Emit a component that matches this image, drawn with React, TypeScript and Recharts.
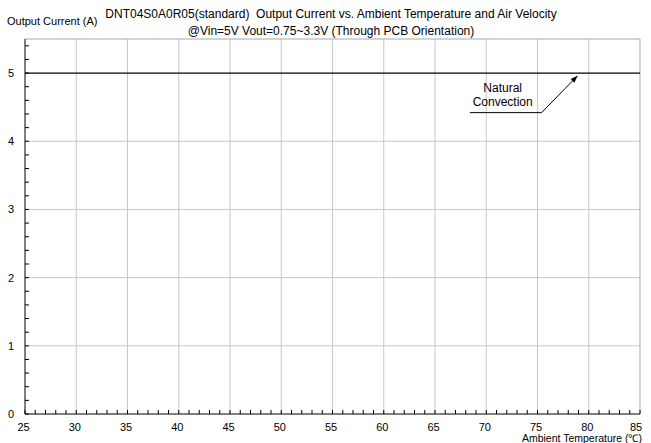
import React from 'react';
import { LineChart, Line, XAxis, YAxis, ReferenceLine, ReferenceDot } from 'recharts';

const temps = [25, 85];
const naturalConvection = [5, 5];
const xLabelValues = [25, 30, 35, 40, 45, 50, 55, 60, 65, 70, 75, 80, 85];
const yLabelValues = [0, 1, 2, 3, 4, 5];
const xGridValues = [30, 35, 40, 45, 50, 55, 60, 65, 70, 75, 80];
const yGridValues = [1, 2, 3, 4];
const xMinorTicks = Array.from({ length: 61 }, (_, i) => 25 + i);
const yMinorTicks = Array.from({ length: 28 }, (_, i) => Math.round(i * 2) / 10);
const leaderX = [68.4, 75.4, 78.9];
const leaderY = [4.42, 4.42, 4.96];
const noteLines = ['Natural', 'Convection'];
const noteX = 71.6;
const noteY = [4.78, 4.57];

const titleLine1 = 'DNT04S0A0R05(standard)  Output Current vs. Ambient Temperature and Air Velocity';
const titleLine2 = '@Vin=5V Vout=0.75~3.3V (Through PCB Orientation)';
const yTitle = 'Output Current (A)';
const xTitle = 'Ambient Temperature (\u2103)';

const FONT = '"Liberation Sans", Arial, sans-serif';

const data = temps.map((t, i) => ({ t, nc: naturalConvection[i] }));
const leaderData = leaderX.map((t, i) => ({ t, y: leaderY[i] }));

const XTick = (props: any) => {
  const { x, y, payload } = props;
  const v = payload.value;
  const major = xLabelValues.includes(v);
  const isLast = v === xLabelValues[xLabelValues.length - 1];
  return (
    <g>
      <line x1={x} x2={x} y1={y} y2={y - 4} stroke="#000" strokeWidth={1} />
      {major && (
        <text
          x={x - (isLast ? 4 : 1.5)}
          y={y + 17}
          textAnchor="middle"
          fontSize={11}
          fontFamily={FONT}
          fill="#000"
        >
          {v}
        </text>
      )}
    </g>
  );
};

const YTick = (props: any) => {
  const { x, y, payload } = props;
  const v = payload.value;
  const major = yLabelValues.includes(v);
  return (
    <g>
      <line x1={x} x2={x + 4} y1={y} y2={y} stroke="#000" strokeWidth={1} />
      {major && (
        <text x={x - 11} y={y + 4} textAnchor="end" fontSize={11} fontFamily={FONT} fill="#000">
          {v}
        </text>
      )}
    </g>
  );
};

const ArrowDot = (p: any) => {
  if (p.index !== leaderX.length - 1) return <g key={`d${p.index}`} />;
  const dx = 36;
  const dy = -37;
  const len = Math.sqrt(dx * dx + dy * dy);
  const ux = dx / len;
  const uy = dy / len;
  const L = 7;
  const W = 2.6;
  const bx = p.cx - ux * L;
  const by = p.cy - uy * L;
  const pts = `${p.cx},${p.cy} ${bx - uy * W},${by + ux * W} ${bx + uy * W},${by - ux * W}`;
  return <polygon key={`d${p.index}`} points={pts} fill="#000" />;
};

export default function App() {
  return (
    <div style={{ position: 'absolute', left: 0, top: 0, width: 651, height: 443, background: '#fff', fontFamily: FONT }}>
      <LineChart width={651} height={443} data={data} margin={{ top: 39, right: 11, bottom: 0, left: 0 }}>
        <XAxis
          dataKey="t"
          type="number"
          domain={[25, 85]}
          ticks={xMinorTicks}
          interval={0}
          tickSize={0}
          tickMargin={0}
          tick={<XTick />}
          stroke="#000"
          height={29}
          allowDataOverflow
        />
        <YAxis
          type="number"
          domain={[0, 5.5]}
          ticks={yMinorTicks}
          interval={0}
          tickSize={0}
          tickMargin={0}
          tick={<YTick />}
          stroke="#000"
          width={25}
          allowDataOverflow
        />
        {xGridValues.map((v) => (
          <ReferenceLine key={`gx${v}`} x={v} stroke="#c8c8c8" strokeWidth={1} />
        ))}
        {yGridValues.map((v) => (
          <ReferenceLine key={`gy${v}`} y={v} stroke="#c8c8c8" strokeWidth={1} />
        ))}
        <ReferenceLine x={85} stroke="#a8a8a8" strokeWidth={1} />
        <ReferenceLine y={5.5} stroke="#a8a8a8" strokeWidth={1} />
        <Line
          dataKey="nc"
          stroke="#000"
          strokeWidth={1.3}
          dot={false}
          activeDot={false}
          isAnimationActive={false}
        />
        <Line
          data={leaderData}
          dataKey="y"
          stroke="#000"
          strokeWidth={1}
          dot={ArrowDot}
          activeDot={false}
          isAnimationActive={false}
        />
        {noteLines.map((s, i) => (
          <ReferenceDot
            key={`n${i}`}
            x={noteX}
            y={noteY[i]}
            r={0}
            shape={(p: any) => (
              <text x={p.cx} y={p.cy + 4} textAnchor="middle" fontSize={12} fontFamily={FONT} fill="#000">
                {s}
              </text>
            )}
          />
        ))}
      </LineChart>
      <div style={{ position: 'absolute', left: 0, width: 662, top: 7, textAlign: 'center', fontSize: 12, lineHeight: '14px', color: '#000', whiteSpace: 'pre' }}>
        {titleLine1}
      </div>
      <div style={{ position: 'absolute', left: 0, width: 662, top: 24, textAlign: 'center', fontSize: 12, lineHeight: '14px', color: '#000', whiteSpace: 'pre' }}>
        {titleLine2}
      </div>
      <div style={{ position: 'absolute', left: 7, top: 14, fontSize: 11, lineHeight: '14px', color: '#000', whiteSpace: 'pre' }}>
        {yTitle}
      </div>
      <div style={{ position: 'absolute', right: 9, top: 434, fontSize: 10.5, lineHeight: '9px', color: '#000', whiteSpace: 'pre' }}>
        {xTitle}
      </div>
    </div>
  );
}
